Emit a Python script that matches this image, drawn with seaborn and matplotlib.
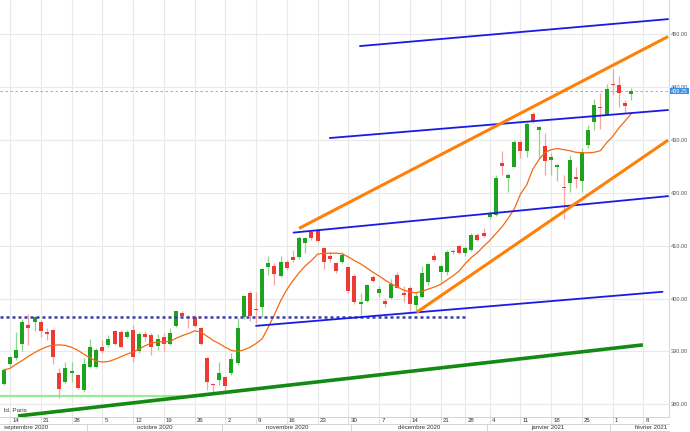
import numpy as np
import pandas as pd
import matplotlib
matplotlib.use('Agg')
import matplotlib.pyplot as plt
import matplotlib.transforms as mtransforms
import seaborn as sns

# trading days shown (Euronext closed on 25 Dec and 1 Jan)
holidays = pd.to_datetime(['2020-12-25', '2021-01-01'])
cal = pd.bdate_range('2020-09-01', '2021-02-26')
cal = cal[~cal.isin(holidays)]
first_day = pd.Timestamp('2020-09-11')
last_day = pd.Timestamp('2021-02-04')

# daily candles, 11 Sep 2020 -> 4 Feb 2021
opens = [383.8, 387.7, 388.7, 391.4, 395.0, 395.5, 395.5, 393.7, 394.0, 386.0,
         384.3, 386.0, 385.6, 382.7, 387.0, 387.0, 390.9, 391.25, 393.8, 393.65,
         392.7, 394.1, 390.0, 393.3, 393.1, 391.1, 392.8, 391.4, 394.85, 397.25,
         396.6, 396.5, 394.5, 388.7, 383.9, 384.6, 385.1, 386.0, 387.8, 396.5,
         401.0, 398.0, 398.5, 405.9, 406.25, 404.2, 407.0, 407.8, 407.8, 410.5,
         412.7, 412.8, 409.5, 408.1, 406.8, 407.0, 405.9, 404.3, 399.0, 399.6,
         404.05, 401.0, 399.6, 400.1, 404.5, 401.0, 401.95, 398.8, 400.4, 403.1,
         408.15, 405.0, 405.0, 409.0, 410.0, 408.7, 409.2, 412.1, 412.4, 415.5,
         415.8, 425.6, 422.8, 425.0, 429.7, 428.0, 434.95, 431.9, 428.9, 426.2,
         425.0, 421.2, 421.95, 422.95, 422.3, 429.1, 433.5, 436.2, 434.8, 440.6,
         440.4, 436.95, 438.7]
highs = [386.8, 389.2, 393.7, 396.1, 397.1, 396.8, 395.9, 394.4, 394.2, 386.8,
         388.1, 388.1, 385.7, 388.7, 392.3, 390.75, 392.2, 393.1, 394.0, 394.1,
         394.1, 395.0, 393.65, 393.8, 393.5, 393.3, 393.5, 394.4, 397.75, 397.6,
         396.9, 396.9, 394.7, 388.9, 383.95, 388.1, 385.4, 389.7, 396.3, 400.7,
         401.5, 401.2, 405.75, 408.1, 406.7, 408.1, 407.3, 409.2, 411.9, 411.75,
         413.0, 413.1, 409.85, 408.9, 407.0, 408.9, 406.1, 404.6, 401.0, 402.7,
         404.5, 402.3, 400.1, 403.7, 405.0, 402.3, 402.3, 401.3, 406.1, 406.7,
         408.6, 406.4, 409.2, 409.4, 410.2, 409.9, 412.5, 412.5, 413.3, 416.65,
         423.4, 428.0, 423.7, 430.0, 430.0, 433.5, 435.4, 432.7, 431.4, 427.5,
         425.5, 423.4, 427.2, 425.0, 428.6, 432.9, 437.7, 439.0, 440.6, 443.4,
         442.1, 437.5, 439.8]
lows = [383.7, 387.1, 388.4, 390.0, 391.3, 393.8, 392.8, 392.2, 387.7, 381.2,
        384.1, 384.3, 382.9, 382.4, 386.8, 386.8, 389.7, 390.9, 391.25, 390.8,
        392.5, 388.1, 389.7, 391.9, 389.4, 390.3, 390.0, 391.25, 394.7, 396.3,
        394.4, 394.7, 391.25, 382.7, 382.1, 383.7, 382.2, 385.6, 387.5, 396.1,
        395.8, 395.3, 396.5, 404.5, 402.6, 404.05, 405.4, 407.0, 407.5, 408.6,
        411.1, 410.8, 405.6, 407.0, 404.8, 406.8, 401.0, 399.0, 396.9, 399.3,
        403.1, 400.4, 398.5, 399.9, 401.95, 399.4, 397.2, 397.4, 400.2, 402.6,
        407.1, 403.1, 404.5, 408.4, 408.4, 408.0, 409.0, 410.9, 411.7, 415.0,
        415.6, 423.4, 420.2, 424.85, 426.7, 426.9, 433.3, 426.55, 423.4, 423.4,
        422.2, 415.0, 420.2, 420.9, 420.2, 428.45, 431.9, 432.1, 434.8, 438.5,
        436.3, 435.2, 437.5]
closes = [386.5, 388.9, 390.3, 395.5, 394.5, 396.5, 393.8, 393.3, 389.05, 382.9,
          386.8, 386.4, 383.0, 387.6, 390.9, 390.3, 390.0, 392.3, 391.4, 390.9,
          393.65, 389.0, 393.3, 392.8, 390.9, 392.3, 391.4, 393.5, 397.6, 396.7,
          396.3, 394.85, 391.4, 384.3, 383.75, 386.0, 383.4, 388.5, 394.4, 400.5,
          396.8, 397.8, 405.6, 406.8, 404.7, 407.0, 405.75, 407.3, 411.4, 411.4,
          411.4, 411.0, 407.0, 407.45, 405.3, 408.3, 401.45, 399.4, 399.4, 402.5,
          403.35, 401.8, 398.9, 402.7, 402.1, 400.7, 398.9, 400.5, 404.8, 406.5,
          407.3, 406.1, 408.8, 408.8, 408.7, 409.6, 412.1, 411.1, 411.9, 416.1,
          422.8, 425.1, 423.4, 429.7, 428.0, 433.05, 433.5, 432.4, 426.05, 426.9,
          425.3, 420.9, 426.25, 422.7, 427.8, 432.0, 436.65, 436.0, 439.6, 440.4,
          438.9, 436.5, 439.25]
# moving average as drawn on the chart
ma = [386.5, 386.8, 387.6, 388.3, 389.1, 389.8, 390.4, 390.9, 391.2, 391.25,
      391.15, 390.8, 390.25, 389.5, 388.8, 388.2, 388.0, 388.1, 388.5, 389.0,
      389.5, 389.9, 390.5, 391.1, 391.6, 391.8, 391.85, 391.9, 392.5, 393.0,
      393.4, 393.9, 393.7, 392.9, 392.1, 391.5, 390.8, 390.2, 390.0, 390.3,
      390.8, 391.5, 392.4, 394.6, 397.0, 399.6, 401.7, 403.4, 404.9, 406.2,
      407.2, 408.4, 408.6, 408.6, 408.6, 408.5, 407.9, 407.2, 406.6, 405.8,
      405.0, 404.3, 403.5, 402.8, 402.2, 401.6, 401.3, 401.1, 401.4, 401.8,
      402.2, 402.7, 403.5, 404.3, 405.2, 406.6, 407.8, 408.7, 409.9, 411.0,
      412.3, 413.6, 415.2, 417.0, 419.8, 421.5, 424.5, 426.3, 427.7, 428.2,
      428.4, 428.2, 428.0, 427.7, 427.6, 427.6, 427.7, 428.0, 429.5, 430.7,
      432.3, 433.6, 435.0]
last_price = 439.25

# drawn lines: (trading-day index, price) at both ends
green_support = ([2.3, 103.9], [377.8, 391.25])
green_flat = ([-0.63, 32.5], [381.5, 381.5])
blue_dotted = ([-0.63, 75.0], [396.6, 396.6])
blue_1 = ([41.0, 107.1], [394.85, 401.3])
blue_2 = ([47.1, 108.0], [412.5, 419.4])
blue_3 = ([53.0, 108.0], [430.4, 435.7])
blue_4 = ([57.9, 108.0], [447.8, 452.9])
orange_top = ([48.0, 108.0], [413.3, 449.6])
orange_bottom = ([67.1, 108.0], [397.4, 430.0])

month_names = ['septembre 2020', 'octobre 2020', 'novembre 2020',
               'décembre 2020', 'janvier 2021', 'février 2021']

sns.set_theme(style='white')
plt.rcParams['font.family'] = ['Liberation Sans', 'DejaVu Sans']

offset = int(np.where(cal == first_day)[0][0])
pos_all = np.arange(len(cal)) - offset
n = int(np.where(cal == last_day)[0][0]) - offset + 1
pos = np.arange(n)

df = pd.DataFrame({'pos': pos, 'open': opens, 'high': highs, 'low': lows,
                   'close': closes, 'ma': ma})

W, H = 690, 432
fig = plt.figure(figsize=(W / 100, H / 100), dpi=100)
right = 669 / W
ax = fig.add_axes([0, 15 / H, right, 1 - 15 / H])
ax_d = fig.add_axes([0, 8 / H, right, 7 / H], sharex=ax)
ax_m = fig.add_axes([0, 1 / H, right, 7 / H], sharex=ax)

xmin, xmax = -0.63, 108.15
ax.set_xlim(xmin, xmax)
ax.set_ylim(377.6, 456.52)

# weekly ticks on mondays
visible = (pos_all >= xmin) & (pos_all <= xmax)
mondays = visible & (cal.dayofweek == 0)
tick_pos = pos_all[mondays]
tick_lab = [str(d.day) for d in cal[mondays]]
ax.set_xticks(tick_pos)
ax.set_yticks(np.arange(380, 451, 10))
ax.set_yticklabels(['%.2f' % v for v in np.arange(380, 451, 10)])
ax.yaxis.tick_right()
ax.tick_params(axis='y', length=0, pad=1.5, labelsize=4.0, labelcolor='#555555')
ax.tick_params(axis='x', length=0, labelbottom=False)
ax.grid(True, color='#e9e9e9', lw=0.8)
for s in ['top', 'left']:
    ax.spines[s].set_visible(False)
for s in ['right', 'bottom']:
    ax.spines[s].set_color('#d0d0d0')
    ax.spines[s].set_linewidth(0.6)

# last price line
ax.axhline(last_price, color='#e08080', lw=0.6, ls=(0, (3, 3)), zorder=1)

# candles
up = df['close'] >= df['open']
for is_up, body_c, wick_c in [(True, '#1ea31e', '#8fd48f'), (False, '#ec3b33', '#f5a5a5')]:
    d = df[up == is_up]
    ax.vlines(d['pos'], d['low'], d['high'], color=wick_c, lw=0.9, zorder=3)
    body = np.maximum((d['close'] - d['open']).abs(), 0.15)
    ax.bar(d['pos'], body, bottom=np.minimum(d['open'], d['close']),
           width=0.65, color=body_c, lw=0, zorder=4)

sns.lineplot(data=df, x='pos', y='ma', ax=ax, color='#f26a10', lw=0.9, zorder=5)

# trend lines
ax.plot(*green_flat, color='#98ec98', lw=1.6, zorder=2)
ax.plot(*green_support, color='#138a13', lw=2.6, zorder=6, solid_capstyle='butt')
ax.plot(*blue_dotted, color='#3a3aa8', lw=1.8, ls=(0, (1.2, 1.2)), zorder=6)
for line in [blue_1, blue_2, blue_3, blue_4]:
    ax.plot(*line, color='#1a1ae6', lw=1.3, zorder=6)
for line in [orange_top, orange_bottom]:
    ax.plot(*line, color='#ff8008', lw=2.2, zorder=6, solid_capstyle='butt')

ax.set_xlabel('')
ax.set_ylabel('')

# price tag
ax.annotate('%.2f' % last_price, xy=(1.0, last_price),
            xycoords=mtransforms.blended_transform_factory(ax.transAxes, ax.transData),
            xytext=(1.5, 0), textcoords='offset points', va='center', ha='left',
            fontsize=4.0, color='white', annotation_clip=False,
            bbox=dict(boxstyle='square,pad=0.12', fc='#3a8ee6', ec='none'))

ax.text(0.0, 378.8, 'ld. Paris', fontsize=4.6, color='#444444', ha='left', va='center')

# date strip: day row and month row
for a in [ax_d, ax_m]:
    a.set_ylim(0, 1)
    a.set_yticks([])
    a.tick_params(axis='x', length=0, labelbottom=False)
    for s in a.spines.values():
        s.set_color('#cccccc')
        s.set_linewidth(0.6)
    a.spines['right'].set_visible(False)
    a.spines['left'].set_visible(False)

for p, lab in zip(tick_pos, tick_lab):
    ax_d.axvline(p, color='#dddddd', lw=0.6)
    ax_d.text(p + 0.35, 0.5, lab, fontsize=4.4, color='#333333', ha='left', va='center')

months = cal.to_period('M')
for i, m in enumerate(months.unique()):
    mpos = pos_all[months == m]
    if mpos[0] > xmin:
        ax_m.axvline(mpos[0] - 0.5, color='#cccccc', lw=0.6)
    centre = min(max((mpos[0] + mpos[-1]) / 2, 3.6), 105.2)
    ax_m.text(centre, 0.5, month_names[i], fontsize=4.4, color='#333333',
              ha='center', va='center')

fig.savefig('out.png', dpi=100)
